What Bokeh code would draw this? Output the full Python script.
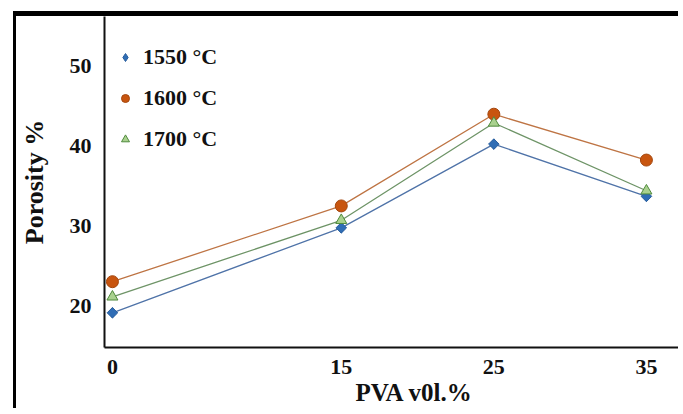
import math
from bokeh.plotting import figure
from bokeh.models import Range1d, FixedTicker, Legend, LegendItem, Title
from bokeh.embed import file_html
from bokeh.resources import INLINE

pva = [0, 15, 25, 35]
tick_labels = {0: "0", 15: "15", 25: "25", 35: "35"}
por_1550 = [19.1, 29.75, 40.25, 33.7]
por_1600 = [23.0, 32.5, 44.0, 38.25]
por_1700 = [21.1, 30.7, 42.9, 34.4]
series_names = ["1550 \u00b0C", "1600 \u00b0C", "1700 \u00b0C"]

FONT = "Liberation Serif"

p = figure(width=665, height=397, output_backend="svg", toolbar_location=None,
           x_range=Range1d(-0.52, 37.3), y_range=Range1d(14.75, 56.25),
           min_border_left=88, min_border_right=0, min_border_top=0, min_border_bottom=66,
           styles={"border-top": "5px solid black", "border-left": "3px solid black",
                   "margin-left": "13px", "margin-top": "11px"})
p.outline_line_color = None
p.grid.visible = False

for ax in (p.xaxis[0], p.yaxis[0]):
    ax.axis_line_color = "#111111"
    ax.axis_line_width = 2
    ax.major_tick_line_color = None
    ax.minor_tick_line_color = None
    ax.major_label_text_font = FONT
    ax.major_label_text_font_style = "bold"
    ax.major_label_text_font_size = "22px"
    ax.major_label_text_color = "#111111"
    ax.axis_label_text_font = FONT
    ax.axis_label_text_font_style = "bold"
    ax.axis_label_text_color = "#111111"

p.xaxis.ticker = FixedTicker(ticks=pva)
p.xaxis.major_label_overrides = tick_labels
p.xaxis.major_label_standoff = 6

p.add_layout(Title(text="PVA v0l.%", align="left", offset=251, standoff=1,
                   text_font=FONT, text_font_style="bold", text_font_size="25px",
                   text_color="#111111"), "below")

p.yaxis.ticker = FixedTicker(ticks=[20, 30, 40, 50])
p.yaxis.major_label_standoff = 7
p.yaxis.axis_label = "Porosity %"
p.yaxis.axis_label_text_font_size = "26px"
p.yaxis.axis_label_standoff = 18

styles = [
    dict(line="#4F73A8", marker="square", size=7.5, angle=math.pi / 4, fill="#2F6DB5",
         outline="#2A5F9E", leg_marker="diamond", leg_size=10),
    dict(line="#BE7444", marker="circle", size=12, angle=0, fill="#C8550F",
         outline="#A4470E", leg_marker=None, leg_size=None),
    dict(line="#6E9467", marker="triangle", size=11, angle=0, fill="#A9D18E",
         outline="#4F8A3C", leg_marker=None, leg_size=None),
]

items = []
for vals, name, st in zip([por_1550, por_1600, por_1700], series_names, styles):
    p.line(pva, vals, line_color=st["line"], line_width=1.3)
    leg_r = None
    if st["leg_marker"]:
        # diamond drawn underneath (fully covered) so the legend shows a diamond
        leg_r = p.scatter(pva, vals, marker=st["leg_marker"], size=st["leg_size"],
                          fill_color=st["fill"], line_color=st["outline"], line_width=1)
    r = p.scatter(pva, vals, marker=st["marker"], size=st["size"], angle=st["angle"],
                  fill_color=st["fill"], line_color=st["outline"], line_width=1)
    items.append(LegendItem(label=name, renderers=[leg_r or r]))

legend = Legend(items=items, location=(11, 195), border_line_color=None,
                background_fill_alpha=0, padding=0, margin=0, spacing=15,
                glyph_width=20, glyph_height=20, label_height=20, label_standoff=8,
                label_text_font=FONT, label_text_font_style="bold",
                label_text_font_size="22px", label_text_color="#111111")
p.add_layout(legend, "center")

open("out.html", "w").write(file_html(p, INLINE))
